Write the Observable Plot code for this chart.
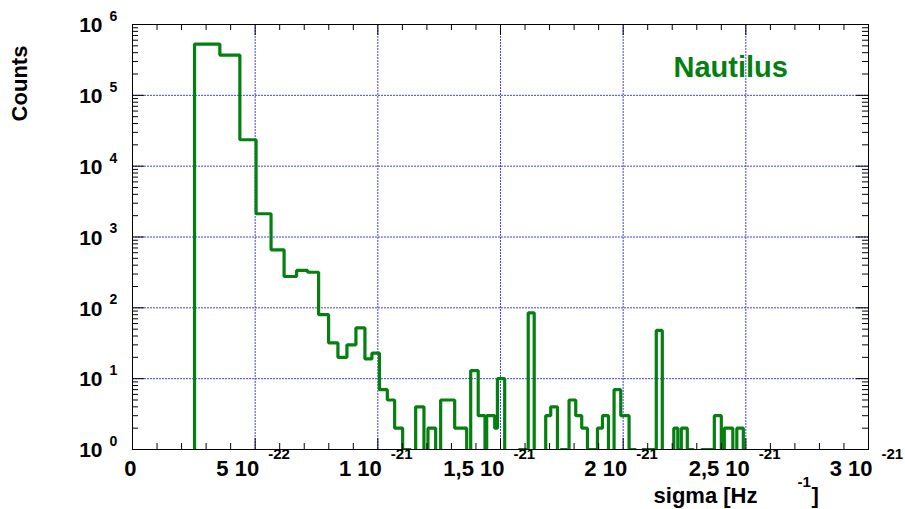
<!DOCTYPE html>
<html>
<head>
<meta charset="utf-8">
<script src="https://cdn.jsdelivr.net/npm/d3@7"></script>
<script src="https://cdn.jsdelivr.net/npm/@observablehq/plot@0.6"></script>
<style>
  html, body { margin: 0; padding: 0; background: #ffffff; }
  #chart svg { display: block; }
</style>
</head>
<body>
<div id="chart"></div>
<script>
// Histogram of sigma (units of 1e-22 Hz^-1): variable-width bin edges and counts per bin.
const binEdges = [
  2.529, 3.560, 4.376, 5.037, 5.648, 6.179, 6.688, 7.137, 7.586, 7.993,
  8.373, 8.740, 9.107, 9.474, 9.759, 10.065, 10.387, 10.685, 11.011, 11.338,
  11.542, 11.880, 12.043, 12.357, 12.561, 13.132, 13.622, 13.785, 14.091, 14.368,
  14.437, 14.764, 14.874, 15.171, 15.754, 16.130, 16.374, 16.843, 17.047, 17.321,
  17.455, 17.700, 17.794, 18.067, 18.311, 18.544, 18.610, 18.952, 19.156, 19.401,
  19.629, 19.902, 20.241, 20.514, 20.787, 21.350, 21.595, 22.064, 22.227, 22.370,
  22.614, 22.867, 23.193, 23.716, 24.001, 24.123, 24.470, 24.633, 24.898
];
const binCounts = [
  530000, 370000, 23600, 2130, 660, 277, 337, 318, 80, 32,
  20, 30, 52, 19, 23, 7, 5, 2, 1, 0,
  4, 0, 2, 0, 5, 2, 0, 13, 3, 0,
  3, 2, 10, 0, 1, 85, 0, 3, 4, 0,
  1, 0, 5, 3, 2, 0, 1, 2, 3, 0,
  7, 3, 1, 0, 1, 48, 0, 2, 1, 2,
  1, 0, 1, 3, 1, 2, 0, 2
];
const edgeUnit = 1e-22;

// Axis ticks and labels
const xMajorTicks = [0, 5e-22, 1e-21, 1.5e-21, 2e-21, 2.5e-21, 3e-21];
const xMainLabels = ["0", "5 10", "1 10", "1,5 10", "2 10", "2,5 10", "3 10"];
const xExpLabels = ["", "-22", "-21", "-21", "-21", "-21", "-21"];
const xMinorTicks = d3.range(1, 30).filter(i => i % 5 !== 0).map(i => i * 1e-22);
const yMajorTicks = [1, 10, 100, 1000, 10000, 100000, 1000000];
const yExpLabels = ["0", "1", "2", "3", "4", "5", "6"];
const yMinorTicks = d3.range(0, 6).flatMap(k => d3.range(2, 10).map(m => m * 10 ** k));
const xGrid = [5e-22, 1e-21, 1.5e-21, 2e-21, 2.5e-21];
const yGrid = [1, 10, 100, 1000, 10000, 100000];

// Step outline of the histogram; empty bins drop below the frame and are clipped
const emptyFloor = 0.4;
const outline = [{x: binEdges[0] * edgeUnit, y: emptyFloor}];
binCounts.forEach((c, i) => outline.push({x: binEdges[i] * edgeUnit, y: c > 0 ? c : emptyFloor}));
outline.push({x: binEdges[binEdges.length - 1] * edgeUnit, y: emptyFloor});

const xLabelRows = xMajorTicks.map((v, i) => ({v, main: xMainLabels[i], exp: xExpLabels[i]}));
const yLabelRows = yMajorTicks.map((v, i) => ({v, exp: yExpLabels[i]}));

const W = 905, H = 509;
const mL = 132, mR = 37, mT = 24, mB = 60;
const fw = W - mL - mR, fh = H - mT - mB;
const green = "#058010";
const gridColor = "#4141e2";
const font = "'Liberation Sans', Arial, Helvetica, sans-serif";
const txt = {fontWeight: "bold", fill: "#000000", lineAnchor: "middle"};

const chart = Plot.plot({
  width: W, height: H,
  marginLeft: mL, marginRight: mR, marginTop: mT, marginBottom: mB,
  style: {fontFamily: font, background: "#ffffff", color: "#000000"},
  x: {domain: [0, 3e-21], axis: null},
  y: {type: "log", domain: [1, 1e6], axis: null},
  marks: [
    Plot.ruleX(xGrid, {x: d => d, stroke: gridColor, strokeWidth: 1, strokeDasharray: "2,1"}),
    Plot.ruleY(yGrid, {y: d => d, stroke: gridColor, strokeWidth: 1, strokeDasharray: "2,1"}),
    Plot.line(outline, {x: "x", y: "y", curve: "step-after", stroke: green, strokeWidth: 3.2, strokeLinejoin: "miter", clip: true}),
    Plot.frame({stroke: "#000000", strokeWidth: 1}),
    // ticks on all four sides, pointing inward
    Plot.tickX(xMajorTicks, {x: d => d, insetTop: fh - 11, stroke: "#000000"}),
    Plot.tickX(xMajorTicks, {x: d => d, insetBottom: fh - 11, stroke: "#000000"}),
    Plot.tickX(xMinorTicks, {x: d => d, insetTop: fh - 6, stroke: "#000000"}),
    Plot.tickX(xMinorTicks, {x: d => d, insetBottom: fh - 6, stroke: "#000000"}),
    Plot.tickY(yMajorTicks, {y: d => d, insetRight: fw - 12, stroke: "#000000"}),
    Plot.tickY(yMajorTicks, {y: d => d, insetLeft: fw - 12, stroke: "#000000"}),
    Plot.tickY(yMinorTicks, {y: d => d, insetRight: fw - 6, stroke: "#000000"}),
    Plot.tickY(yMinorTicks, {y: d => d, insetLeft: fw - 6, stroke: "#000000"}),
    // x tick labels with exponents
    Plot.text(xLabelRows, {...txt, x: "v", text: "main", frameAnchor: "bottom", dy: 19, dx: 4, textAnchor: "end", fontSize: 22}),
    Plot.text(xLabelRows, {...txt, x: "v", text: "exp", frameAnchor: "bottom", dy: 5, dx: 13, textAnchor: "start", fontSize: 15}),
    // y tick labels: 10 with exponent
    Plot.text(yLabelRows, {...txt, y: "v", text: () => "10", frameAnchor: "left", dx: -30, dy: 1, textAnchor: "end", fontSize: 21}),
    Plot.text(yLabelRows, {...txt, y: "v", text: "exp", frameAnchor: "left", dx: -23, dy: -8, textAnchor: "start", fontSize: 14}),
    // axis titles
    Plot.text(["Counts"], {...txt, frameAnchor: "top-left", dx: -113, dy: 59, rotate: -90, textAnchor: "middle", fontSize: 22}),
    Plot.text(["sigma [Hz"], {...txt, frameAnchor: "bottom-right", dx: -111, dy: 46, textAnchor: "end", fontSize: 22}),
    Plot.text(["-1"], {...txt, frameAnchor: "bottom-right", dx: -71, dy: 33, textAnchor: "start", fontSize: 15}),
    Plot.text(["]"], {...txt, frameAnchor: "bottom-right", dx: -57, dy: 46, textAnchor: "start", fontSize: 22}),
    // detector name
    Plot.text(["Nautilus"], {...txt, frameAnchor: "top-right", dx: -195, dy: 43, textAnchor: "start", fontSize: 29, fill: green})
  ]
});
document.getElementById("chart").appendChild(chart);
</script>
</body>
</html>
